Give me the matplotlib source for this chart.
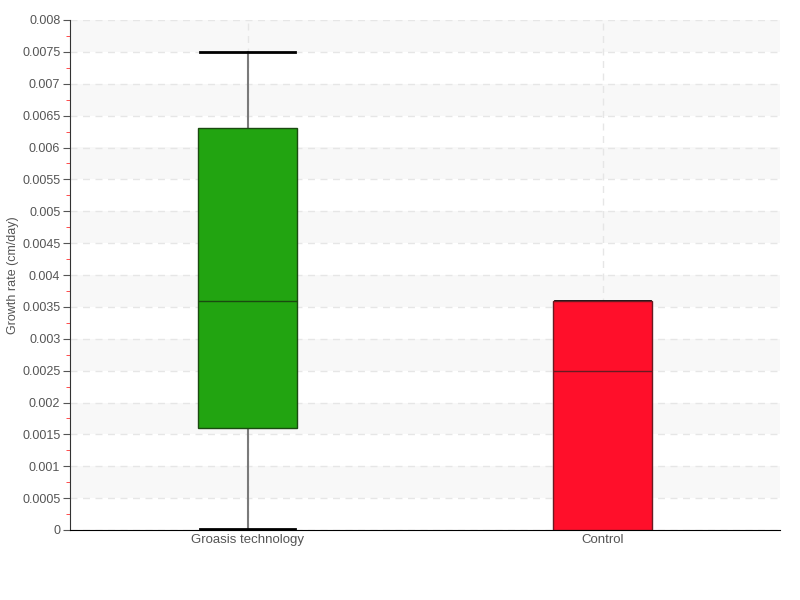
import matplotlib
matplotlib.use("Agg")
import matplotlib.pyplot as plt
import numpy as np

categories = ["Groasis technology", "Control"]
whisker_low = [0.00002, 0.0]
q1 = [0.0016, 0.0]
median = [0.0036, 0.0025]
q3 = [0.0063, 0.0036]
whisker_high = [0.0075, 0.0036]
box_colors = ["#22a411", "#ff0f2a"]
edge_colors = ["#1a4a10", "#6a1a22"]

yticks = np.arange(0, 0.00801, 0.0005)
ytick_labels = ["0", "0.0005", "0.001", "0.0015", "0.002", "0.0025", "0.003", "0.0035",
                "0.004", "0.0045", "0.005", "0.0055", "0.006", "0.0065", "0.007", "0.0075", "0.008"]

plt.rcParams['font.family'] = ['Liberation Sans', 'DejaVu Sans']

fig = plt.figure(figsize=(8, 6), dpi=100)
ax = fig.add_axes([70/800, 70/600, 710/800, 510/600])

# alternating bands
for i in range(len(yticks) - 1):
    if i % 2 == 1:
        ax.axhspan(yticks[i], yticks[i+1], color="#f8f8f8", zorder=0, lw=0)

ax.set_yticks(yticks)
ax.set_yticklabels(ytick_labels)
ax.set_yticks(yticks[:-1] + 0.00025, minor=True)
ax.grid(axis='y', which='major', color="#e6e6e6", linestyle=(0, (5, 4)), lw=1, zorder=0.5)
for xpos in range(len(categories)):
    ax.axvline(xpos, color="#e6e6e6", linestyle=(0, (5, 4)), lw=1, zorder=0.5)

stats = []
for i, c in enumerate(categories):
    stats.append(dict(label=c, whislo=whisker_low[i], q1=q1[i], med=median[i],
                      q3=q3[i], whishi=whisker_high[i], fliers=[]))

bp = ax.bxp(stats, positions=range(len(categories)), widths=0.28, patch_artist=True,
            showfliers=False, capwidths=0.27)
for i, b in enumerate(bp['boxes']):
    b.set_facecolor(box_colors[i])
    b.set_edgecolor(edge_colors[i])
    b.set_linewidth(1)
    b.set_zorder(3)
for i, m in enumerate(bp['medians']):
    m.set_color(edge_colors[i])
    m.set_linewidth(1)
    m.set_zorder(4)
for w in bp['whiskers']:
    w.set_color("#7a7a7a")
    w.set_linewidth(1.5)
    w.set_zorder(2)
for c in bp['caps']:
    c.set_color("black")
    c.set_linewidth(2)
    c.set_zorder(2)

ax.set_xlim(-0.5, 1.5)
ax.set_ylim(0, 0.008)
for s in ['top', 'right']:
    ax.spines[s].set_visible(False)
ax.spines['left'].set_color("#333333")
ax.spines['bottom'].set_color("black")
ax.tick_params(axis='y', which='major', length=5, color="#555555", labelsize=9, labelcolor="#555555", pad=2)
ax.tick_params(axis='y', which='minor', length=3, color="#ff3030")
ax.tick_params(axis='x', length=0, labelsize=9.5, labelcolor="#555555", pad=3)
ax.set_ylabel("Growth rate (cm/day)", fontsize=9, color="#555555")
ax.yaxis.set_label_coords(-(70 - 19) / 710, 0.5)

fig.savefig("out.png", dpi=100)
